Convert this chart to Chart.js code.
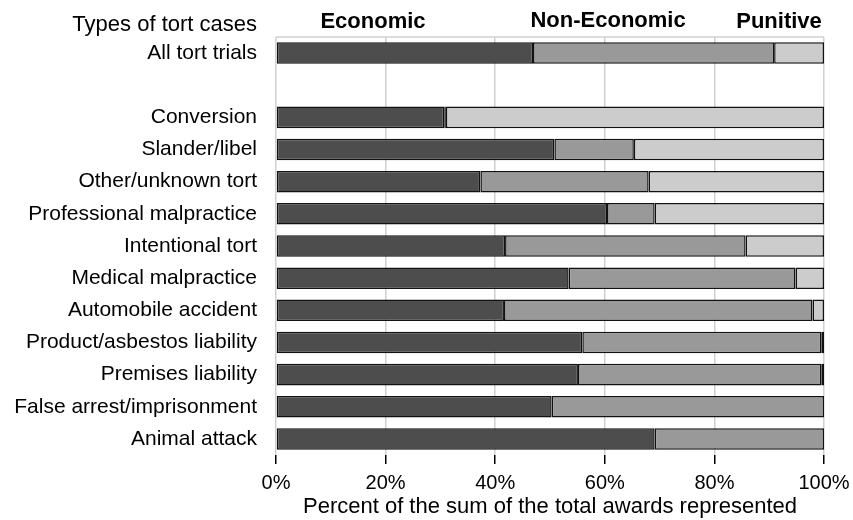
<!DOCTYPE html>
<html>
<head>
<meta charset="utf-8">
<title>Tort awards by type</title>
<script src="https://cdn.jsdelivr.net/npm/chart.js@4/dist/chart.umd.min.js"></script>
<style>
  html, body { margin: 0; padding: 0; background: #fff; }
  canvas { display: block; }
</style>
</head>
<body>
<canvas id="chart" width="853" height="520"></canvas>
<script>
// Case types (the blank entry leaves a gap below the overall row)
const categories = [
  'All tort trials', '',
  'Conversion', 'Slander/libel', 'Other/unknown tort', 'Professional malpractice',
  'Intentional tort', 'Medical malpractice', 'Automobile accident',
  'Product/asbestos liability', 'Premises liability', 'False arrest/imprisonment',
  'Animal attack'
];

// Share of the total awards, percent
const economic    = [46.9, null, 30.7, 50.8, 37.3, 60.4, 41.8, 53.4, 41.6, 55.9, 55.1, 50.3, 69.1];
const nonEconomic = [44.0, null,  0.3, 14.5, 30.7,  8.7, 43.9, 41.4, 56.3, 43.6, 44.4, 49.7, 30.9];
const punitive    = [ 9.1, null, 69.0, 34.7, 32.0, 30.9, 14.3,  5.2,  2.1,  0.5,  0.5,  0.0,  0.0];

const seriesNames = ['Economic', 'Non-Economic', 'Punitive'];
const headerTitle = 'Types of tort cases';
const xTicks = [0, 20, 40, 60, 80, 100];
const xTitle = 'Percent of the sum of the total awards represented';

const FONT = '"Liberation Sans", Arial, Helvetica, sans-serif';
Chart.defaults.font.family = FONT;
Chart.defaults.font.size = 20;
Chart.defaults.color = '#000';

// Column headings above the bars and the top edge of the plot frame
const headerPlugin = {
  id: 'headers',
  beforeDatasetsDraw(chart) {
    const { ctx, chartArea } = chart;
    ctx.save();
    ctx.strokeStyle = '#d0d0d0';
    ctx.lineWidth = 1.5;
    ctx.beginPath();
    ctx.moveTo(chartArea.left, chartArea.top);
    ctx.lineTo(chartArea.right, chartArea.top);
    ctx.stroke();
    ctx.restore();
  },
  afterDraw(chart) {
    const { ctx, chartArea, scales } = chart;
    const y = chartArea.top - 15;
    ctx.save();
    ctx.fillStyle = '#000';
    ctx.textBaseline = 'middle';
    ctx.font = '22px ' + FONT;
    ctx.textAlign = 'right';
    ctx.fillText(headerTitle, chartArea.left - 19, y + 3);
    ctx.font = 'bold 22px ' + FONT;
    ctx.textAlign = 'center';
    ctx.fillText(seriesNames[0], scales.x.getPixelForValue(17.7), y);
    ctx.fillText(seriesNames[1], scales.x.getPixelForValue(60.6), y - 1);
    ctx.textAlign = 'right';
    ctx.fillText(seriesNames[2], scales.x.getPixelForValue(99.6), y);
    ctx.restore();
  }
};

const segStyle = {
  borderColor: '#111',
  borderWidth: 1.5,
  borderSkipped: false,
  barPercentage: 0.67,
  categoryPercentage: 1.0
};

new Chart(document.getElementById('chart'), {
  type: 'bar',
  data: {
    labels: categories,
    datasets: [
      Object.assign({ label: seriesNames[0], data: economic,    backgroundColor: '#4d4d4d' }, segStyle),
      Object.assign({ label: seriesNames[1], data: nonEconomic, backgroundColor: '#999999' }, segStyle),
      Object.assign({ label: seriesNames[2], data: punitive,    backgroundColor: '#cccccc' }, segStyle)
    ]
  },
  options: {
    indexAxis: 'y',
    responsive: false,
    animation: false,
    layout: { padding: { top: 37, right: 29, left: 0, bottom: 0 } },
    plugins: {
      legend: { display: false },
      tooltip: { enabled: false }
    },
    scales: {
      x: {
        stacked: true,
        min: 0,
        max: 100,
        afterBuildTicks(scale) { scale.ticks = xTicks.map(v => ({ value: v })); },
        afterFit(scale) {
          scale.paddingLeft = 0;
          scale.paddingRight = 0;
          scale.height = 65;
        },
        ticks: {
          callback: v => v + '%',
          padding: 7,
          font: { size: 20 },
          color: '#000',
          maxRotation: 0
        },
        grid: {
          color: '#d0d0d0',
          lineWidth: 1.5,
          tickColor: '#000',
          tickWidth: 1.5,
          tickLength: 9,
          drawOnChartArea: true
        },
        border: { display: false },
        title: {
          display: true,
          text: xTitle,
          font: { size: 22 },
          color: '#000',
          padding: { top: 0, bottom: 0 }
        }
      },
      y: {
        stacked: true,
        afterFit(scale) { scale.width = 276; },
        ticks: {
          padding: 11,
          font: { size: 21 },
          color: '#000',
          autoSkip: false
        },
        grid: { display: false },
        border: { display: false }
      }
    }
  },
  plugins: [headerPlugin]
});
</script>
</body>
</html>
